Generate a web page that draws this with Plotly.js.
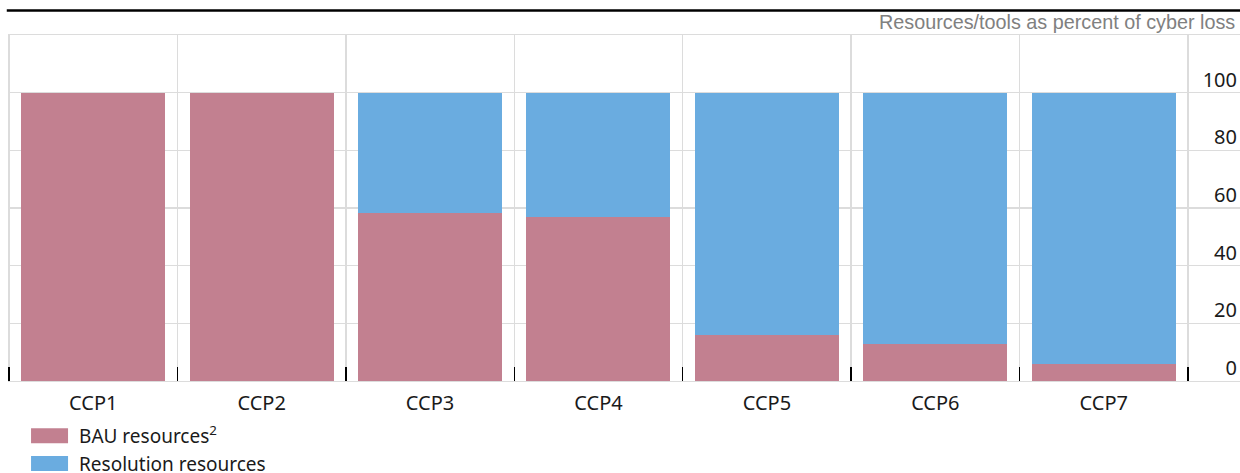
<!DOCTYPE html>
<html>
<head>
<meta charset="utf-8">
<script src="https://cdn.plot.ly/plotly-3.0.1.min.js"></script>
<style>
  html, body { margin: 0; padding: 0; background: #ffffff; }
  #chart { width: 1240px; height: 473px; }
</style>
</head>
<body>
<div id="chart"></div>
<script>
const categories = ['CCP1', 'CCP2', 'CCP3', 'CCP4', 'CCP5', 'CCP6', 'CCP7'];
const bauValues = [100, 100, 58.3, 56.9, 16.0, 12.8, 5.9];
const resolutionValues = [0, 0, 41.7, 43.1, 84.0, 87.2, 94.1];
const seriesNames = ['BAU resources<sup>2</sup>', 'Resolution resources'];
const yTickVals = [0, 20, 40, 60, 80, 100];
const yTickText = ['0', '20', '40', '60', '80', '100'];
const unitLabel = 'Resources/tools as percent of cyber loss';

const pink = '#C28090';
const blue = '#6AACE0';
const gridColor = '#dcdcdc';
const textColor = '#1a1a1a';
const font = 'Noto Sans, Open Sans, DejaVu Sans, sans-serif';

const traces = [
  {
    type: 'bar', name: seriesNames[0], x: categories, y: bauValues,
    marker: { color: pink, line: { width: 0 } }, width: 0.855, hoverinfo: 'x+y'
  },
  {
    type: 'bar', name: seriesNames[1], x: categories, y: resolutionValues,
    marker: { color: blue, line: { width: 0 } }, width: 0.855, hoverinfo: 'x+y'
  }
];

const layout = {
  width: 1240, height: 473,
  margin: { l: 8, r: 0, t: 35, b: 92, autoexpand: false },
  paper_bgcolor: '#ffffff', plot_bgcolor: '#ffffff',
  barmode: 'stack',
  font: { family: font, size: 20, color: textColor },
  showlegend: true,
  legend: {
    orientation: 'v', traceorder: 'normal',
    x: 0.0252, xanchor: 'left', y: -0.104, yanchor: 'top',
    font: { family: font, size: 19, color: textColor },
    bgcolor: 'rgba(0,0,0,0)', tracegroupgap: 0, itemwidth: 30
  },
  xaxis: {
    type: 'category',
    range: [-0.506, 6.809],
    tickson: 'boundaries',
    ticks: 'inside', ticklen: 14, tickwidth: 1.5, tickcolor: '#000000',
    showgrid: true, gridcolor: gridColor, gridwidth: 1.3,
    showline: true, mirror: true, linecolor: gridColor, linewidth: 1.3,
    zeroline: false,
    tickfont: { family: font, size: 20, color: textColor },
    ticklabelstandoff: 4,
    fixedrange: true
  },
  yaxis: {
    side: 'right',
    range: [0, 120],
    tickvals: yTickVals, ticktext: yTickText,
    ticklabelposition: 'inside',
    ticklabeloverflow: 'allow',
    ticklabelshift: -13,
    ticks: '',
    showgrid: true, gridcolor: gridColor, gridwidth: 1.3,
    showline: false, zeroline: false,
    tickfont: { family: font, size: 20, color: textColor },
    fixedrange: true
  },
  shapes: [
    {
      type: 'line', xref: 'paper', yref: 'paper',
      x0: -0.001, x1: 1, y0: 1.0708, y1: 1.0708,
      line: { color: '#000000', width: 2.5 }
    }
  ],
  annotations: [
    {
      text: unitLabel, xref: 'paper', yref: 'paper',
      x: 1, y: 1.0376, xanchor: 'right', yanchor: 'middle', xshift: -3,
      showarrow: false,
      font: { family: 'Liberation Sans, Arial, sans-serif', size: 19.8, color: '#808080' }
    }
  ]
};

function styleLegend() {
  // widen the legend swatches to the reference's wide rectangles
  document.querySelectorAll('g.legendpoints path').forEach(function (p) {
    p.setAttribute('d', 'M-28,7.5H9V-7.5H-28Z');
  });
  // the legend sits at the very bottom edge: do not clip its entries
  document.querySelectorAll('g.legend g.scrollbox').forEach(function (g) {
    g.removeAttribute('clip-path');
  });
  document.querySelectorAll('g.legend rect.scrollbar').forEach(function (r) {
    r.style.display = 'none';
  });
}

const gdEl = document.getElementById('chart');
const plotted = Plotly.newPlot(gdEl, traces, layout, { displayModeBar: false, staticPlot: true });
styleLegend();
gdEl.on && gdEl.on('plotly_afterplot', styleLegend);
plotted.then(function () { styleLegend(); setTimeout(styleLegend, 50); });
</script>
</body>
</html>
